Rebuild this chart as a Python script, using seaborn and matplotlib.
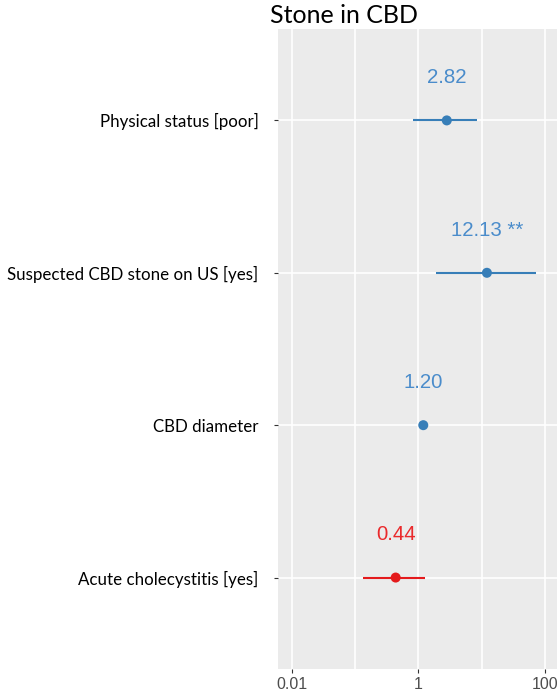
import matplotlib.pyplot as plt
import seaborn as sns
import pandas as pd
import numpy as np

# odds ratios of the model
terms = ['Physical status [poor]', 'Suspected CBD stone on US [yes]',
         'CBD diameter', 'Acute cholecystitis [yes]']
odds = [2.82, 12.13, 1.20, 0.44]
ci_low = [0.82, 1.88, 1.10, 0.134]
ci_high = [8.55, 71.5, 1.31, 1.28]
stars = ['', ' **', '', '']
direction = ['pos', 'pos', 'pos', 'neg']

df = pd.DataFrame({'term': terms, 'odds': odds, 'lo': ci_low, 'hi': ci_high,
                   'stars': stars, 'dir': direction})
df['row'] = range(len(df))

pal = {'pos': '#377EB8', 'neg': '#E41A1C'}
txt_pal = {'pos': '#4A8CCB', 'neg': '#EA2A2C'}

sns.set_theme(style='darkgrid')
plt.rcParams['font.family'] = ['Liberation Sans', 'DejaVu Sans']

fig = plt.figure(figsize=(5.59, 7.0), dpi=100)
ax = fig.add_axes([0.4973, 0.0443, 0.4991, 0.9143])
ax.set_facecolor('#EBEBEB')

ax.set_xscale('log')
ax.hlines(df['row'], df['lo'], df['hi'], colors=[pal[d] for d in df['dir']], lw=1.5, zorder=3)
sns.scatterplot(data=df, x='odds', y='row', hue='dir', palette=pal, s=52,
                linewidth=0, legend=False, ax=ax, zorder=4)

for _, r in df.iterrows():
    ax.text(r['odds'], r['row'] - 0.28, f"{r['odds']:.2f}{r['stars']}",
            color=txt_pal[r['dir']], ha='center', va='center', fontsize=14.7)

ax.set_xlim(0.0061, 155)
ax.set_ylim(3.6, -0.6)
ax.set_xticks([0.01, 1, 100])
ax.set_xticklabels(['0.01', '1', '100'])
ax.set_xticks([0.1, 10], minor=True)
ax.set_xticklabels([], minor=True)
ax.set_yticks(df['row'])
ax.set_yticklabels(df['term'], fontfamily='Lato')
ax.grid(True, which='both', color='white', lw=1.2)
for s in ax.spines.values():
    s.set_visible(False)
ax.set_xlabel('')
ax.set_ylabel('')

ax.tick_params(axis='y', length=3, width=0.8, color='#333333', pad=11,
               labelsize=12.2, labelcolor='black', left=True)
ax.tick_params(axis='x', which='major', length=3, width=0.8, color='#333333',
               pad=3, labelsize=11.5, labelcolor='#4D4D4D', bottom=True)
ax.tick_params(axis='x', which='minor', length=0)

fig.text(0.483, 0.962, 'Stone in CBD', fontsize=18, color='black', ha='left',
         va='bottom', family='Lato')

fig.savefig('out.png', dpi=100)
